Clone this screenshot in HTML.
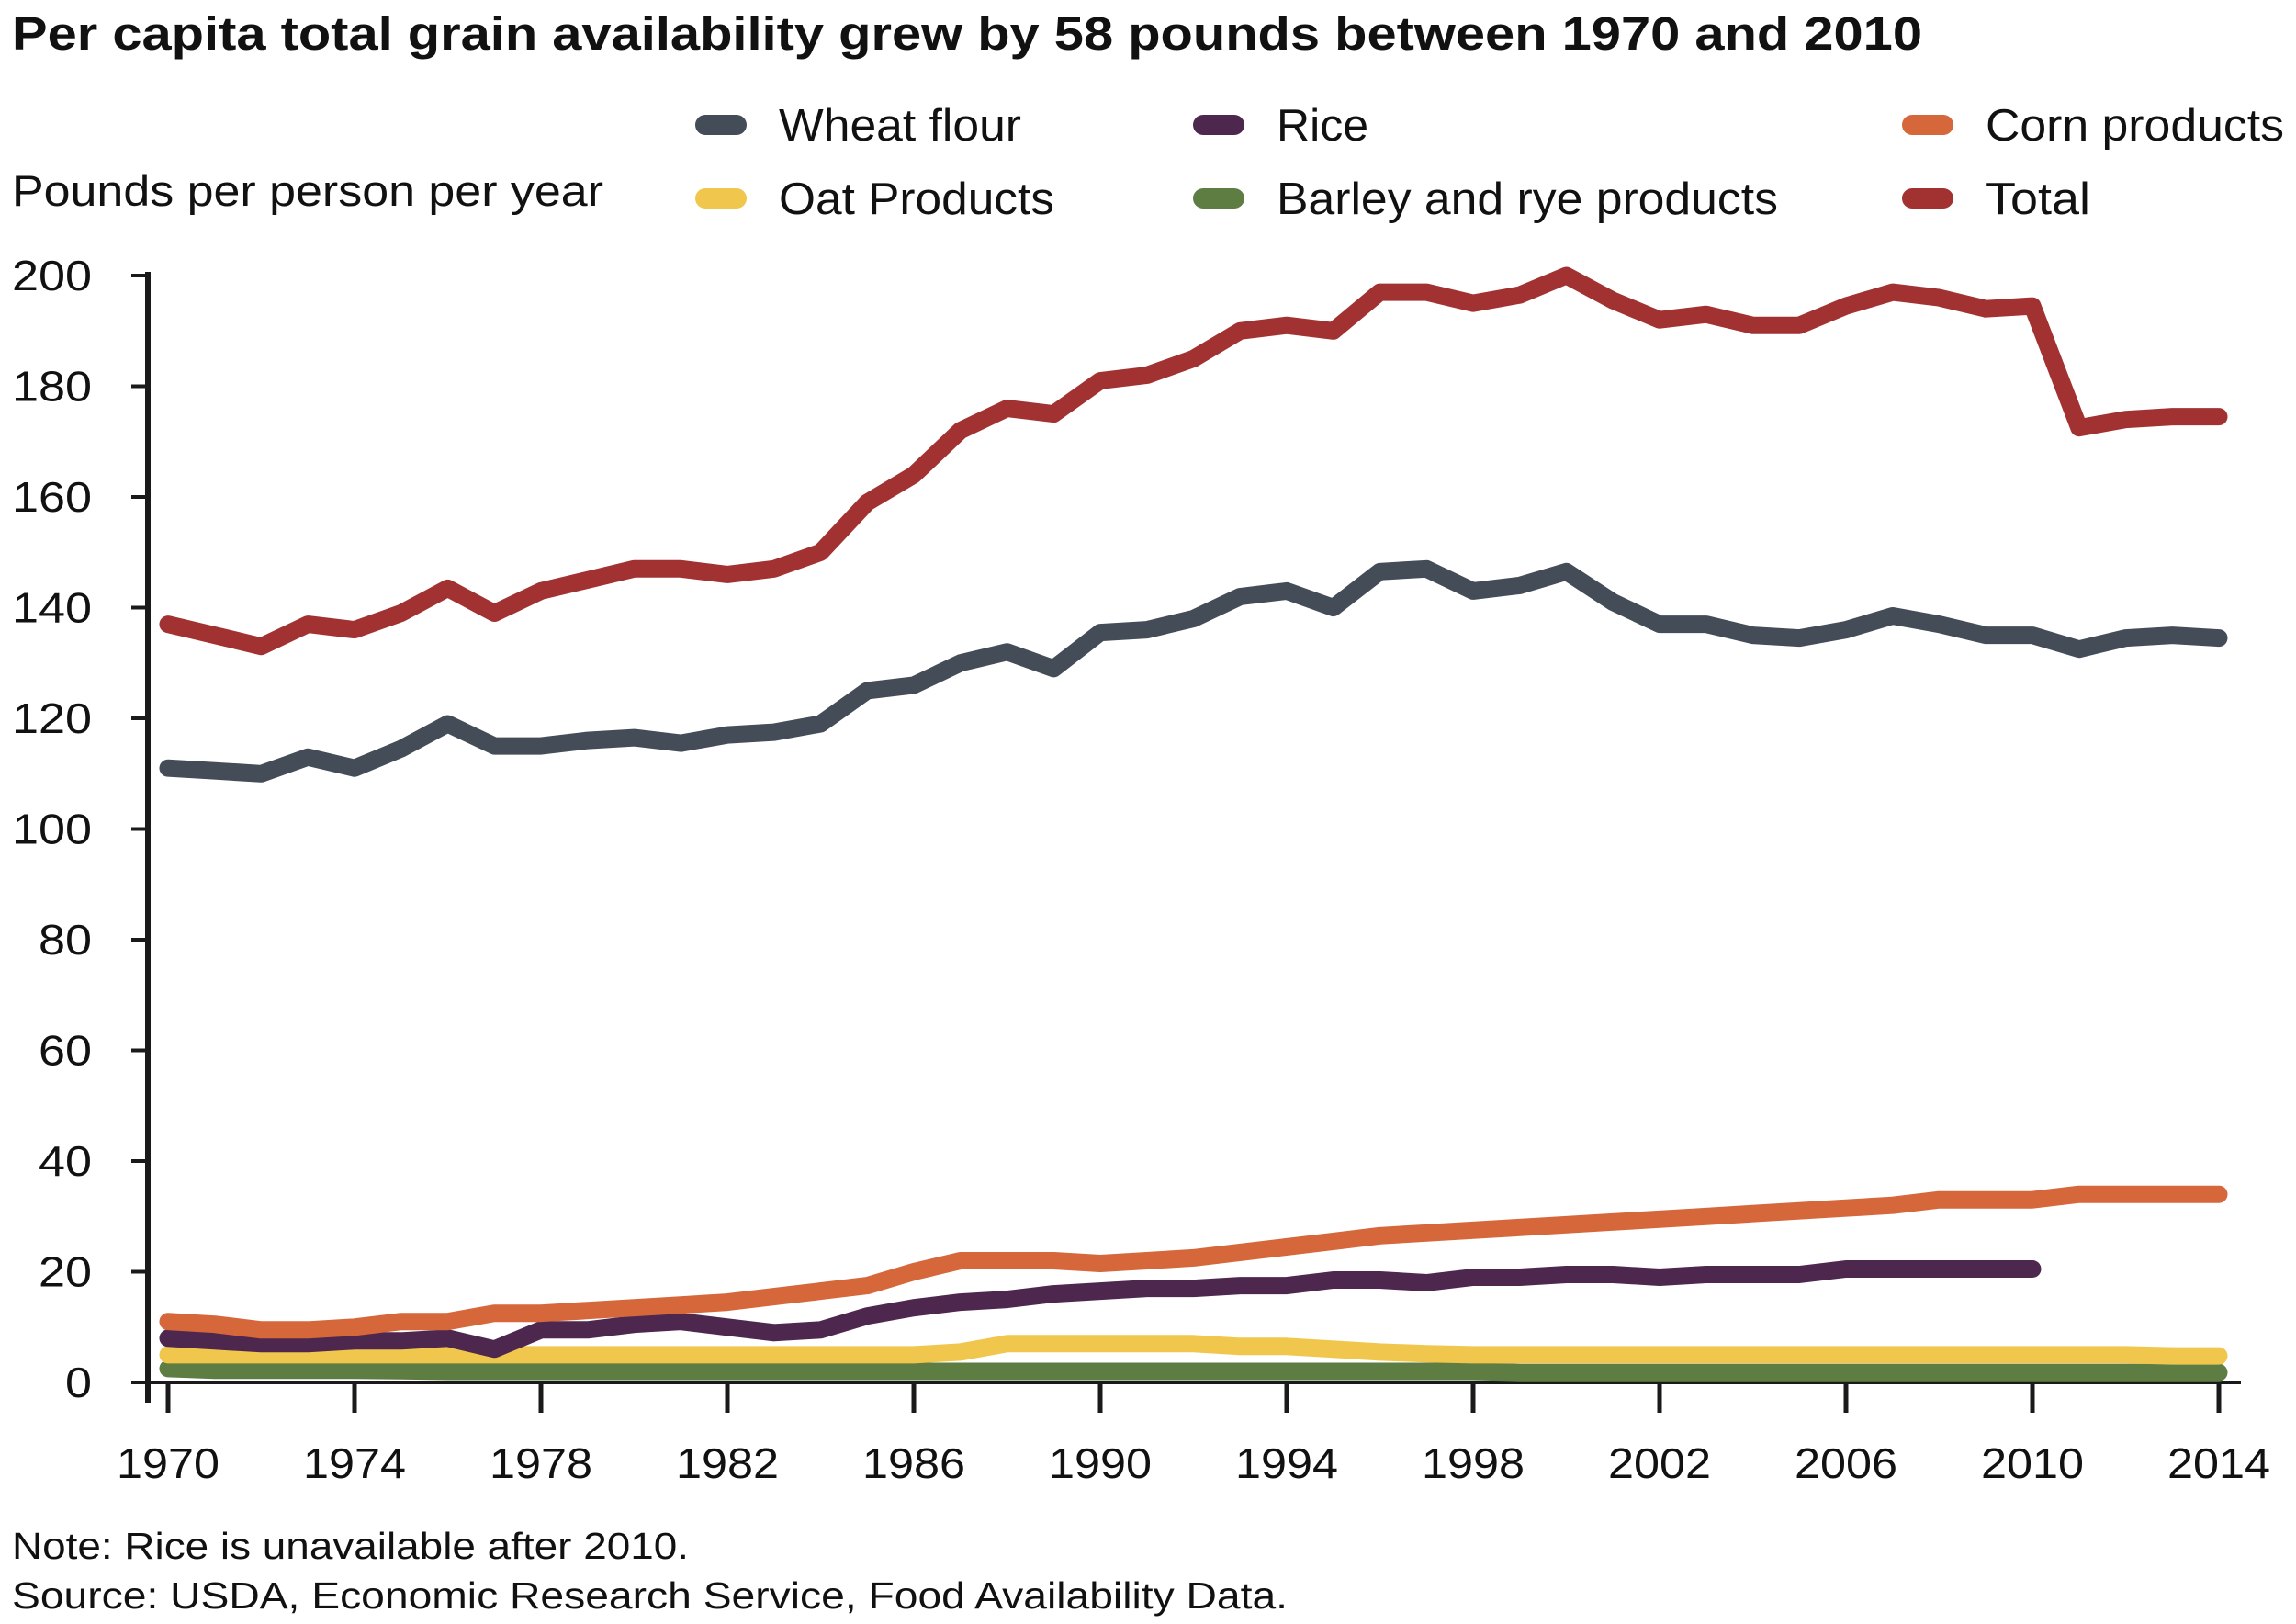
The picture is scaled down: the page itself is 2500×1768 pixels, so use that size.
<!DOCTYPE html>
<html><head><meta charset="utf-8"><style>
html,body{margin:0;padding:0;background:#fff;}
svg{display:block;font-family:"Liberation Sans",sans-serif;}
</style></head><body>
<svg id="chart" width="2500" height="1768" viewBox="0 0 2500 1768" xmlns="http://www.w3.org/2000/svg">
<text x="13" y="54" font-size="51" font-weight="bold" fill="#111" textLength="2080" lengthAdjust="spacingAndGlyphs">Per capita total grain availability grew by 58 pounds between 1970 and 2010</text>
<text x="13" y="224" font-size="47" fill="#111" textLength="644" lengthAdjust="spacingAndGlyphs">Pounds per person per year</text>
<g id="legend"></g>
<g id="axes"></g>
<g id="series"></g>
<text x="13" y="1697" font-size="41" fill="#111" textLength="737" lengthAdjust="spacingAndGlyphs">Note: Rice is unavailable after 2010.</text>
<text x="13" y="1751" font-size="41" fill="#111" textLength="1389" lengthAdjust="spacingAndGlyphs">Source: USDA, Economic Research Service, Food Availability Data.</text>
</svg>
<script>
const years = [1970,1971,1972,1973,1974,1975,1976,1977,1978,1979,1980,1981,1982,1983,1984,1985,1986,1987,1988,1989,1990,1991,1992,1993,1994,1995,1996,1997,1998,1999,2000,2001,2002,2003,2004,2005,2006,2007,2008,2009,2010,2011,2012,2013,2014];
const totalValues = [137,135,133,137,136,139,143.5,139,143,145,147,147,146,147,150,159,164,172,176,175,181,182,185,190,191,190,197,197,195,196.5,200,195.5,192,193,191,191,194.5,197,196,194,194.5,172.5,174,174.5,174.5];
const wheatValues = [111,110.5,110,113,111,114.5,119,115,115,116,116.5,115.5,117,117.5,119,125,126,130,132,129,135.5,136,138,142,143,140,146.5,147,143,144,146.5,141,137,137,135,134.5,136,138.5,137,135,135,132.5,134.5,135,134.5];
const cornValues = [11,10.5,9.5,9.5,10,11,11,12.5,12.5,13,13.5,14,14.5,15.5,16.5,17.5,20,22,22,22,21.5,22,22.5,23.5,24.5,25.5,26.5,27,27.5,28,28.5,29,29.5,30,30.5,31,31.5,32,33,33,33,34,34,34,34];
const riceValues = [8,7.5,7,7,7.5,7.5,8,6,9.5,9.5,10.5,11,10,9,9.5,12,13.5,14.5,15,16,16.5,17,17,17.5,17.5,18.5,18.5,18,19,19,19.5,19.5,19,19.5,19.5,19.5,20.5,20.5,20.5,20.5,20.5];
const oatValues = [5,5,5,5,5,5,5,5,5,5,5,5,5,5,5,5,5,5.5,7,7,7,7,7,6.5,6.5,6,5.5,5.2,5,5,5,5,5,5,5,5,5,5,5,5,5,5,5,4.8,4.8];
const barleyValues = [2.5,2.2,2.2,2.2,2.2,2.1,2,2,2,2,2,2,2,2,2,2,2,2,2,2,2,2,2,2,2,2,2,2,2,1.8,1.8,1.8,1.8,1.8,1.8,1.8,1.8,1.8,1.8,1.8,1.8,1.8,1.8,1.8,1.8];
const yTicks = [0,20,40,60,80,100,120,140,160,180,200];
const xTicks = [1970,1974,1978,1982,1986,1990,1994,1998,2002,2006,2010,2014];

const NS = "http://www.w3.org/2000/svg";
const X0 = 183, X1 = 2416, Y0 = 1505, Y1 = 300;
const xs = y => X0 + (y - 1970) * (X1 - X0) / 44;
const ys = v => Y0 - v * (Y0 - Y1) / 200;
function mk(tag, attrs, parent){const e=document.createElementNS(NS,tag);for(const k in attrs)e.setAttribute(k,attrs[k]);parent.appendChild(e);return e;}

const axes = document.getElementById('axes');
let a = mk('line',{x1:161,y1:Y1-4,x2:161,y2:Y0+22,stroke:'#1a1a1a','stroke-width':6},axes);


a = mk('line',{x1:145,y1:Y0,x2:2440,y2:Y0,stroke:'#1a1a1a','stroke-width':4},axes);


yTicks.forEach(v=>{
  const t = mk('line',{x1:143,y1:ys(v),x2:161,y2:ys(v),stroke:'#1a1a1a','stroke-width':4},axes);
  
  
  const w = String(v).length * 29;
  const l = mk('text',{x:100,y:ys(v)+16,'font-size':46,'text-anchor':'end',fill:'#111',textLength:w,lengthAdjust:'spacingAndGlyphs'},axes);
  
  
  l.textContent = v;
});
xTicks.forEach(yr=>{
  const t = mk('line',{x1:xs(yr),y1:Y0,x2:xs(yr),y2:Y0+33,stroke:'#1a1a1a','stroke-width':5},axes);
  
  
  const l = mk('text',{x:xs(yr),y:1609,'font-size':46,'text-anchor':'middle',fill:'#111',textLength:112,lengthAdjust:'spacingAndGlyphs'},axes);
  
  
  l.textContent = yr;
});

const seriesDefs = [
  ['barley-line', barleyValues, '#5e7d43'],
  ['oat-line', oatValues, '#f0c74c'],
  ['rice-line', riceValues, '#4e274f'],
  ['corn-line', cornValues, '#d5673a'],
  ['wheat-line', wheatValues, '#434c57'],
  ['total-line', totalValues, '#a23232']
];
const sg = document.getElementById('series');
seriesDefs.forEach(([name, vals, col])=>{
  const pts = vals.map((v,i)=>xs(years[i]).toFixed(1)+','+ys(v).toFixed(1)).join(' ');
  const p = mk('polyline',{points:pts,fill:'none',stroke:col,'stroke-width':19,'stroke-linejoin':'round','stroke-linecap':'round'},sg);
  
  
});

const legendItems = [
  ['Wheat flour','#434c57',785,136,264],['Rice','#4e274f',1327,136,100],['Corn products','#d5673a',2099,136,325],
  ['Oat Products','#f0c74c',785,216,300],['Barley and rye products','#5e7d43',1327,216,546],['Total','#a23232',2099,216,114]
];
const lg = document.getElementById('legend');
legendItems.forEach(([label,col,x,y,w])=>{
  const m = mk('rect',{x:x-28,y:y-11,width:56,height:22,rx:11,fill:col},lg);
  
  
  const t = mk('text',{x:x+63,y:y+17,'font-size':49,fill:'#111',textLength:w,lengthAdjust:'spacingAndGlyphs'},lg);
  
  
  t.textContent = label;
});
</script>
</body></html>
